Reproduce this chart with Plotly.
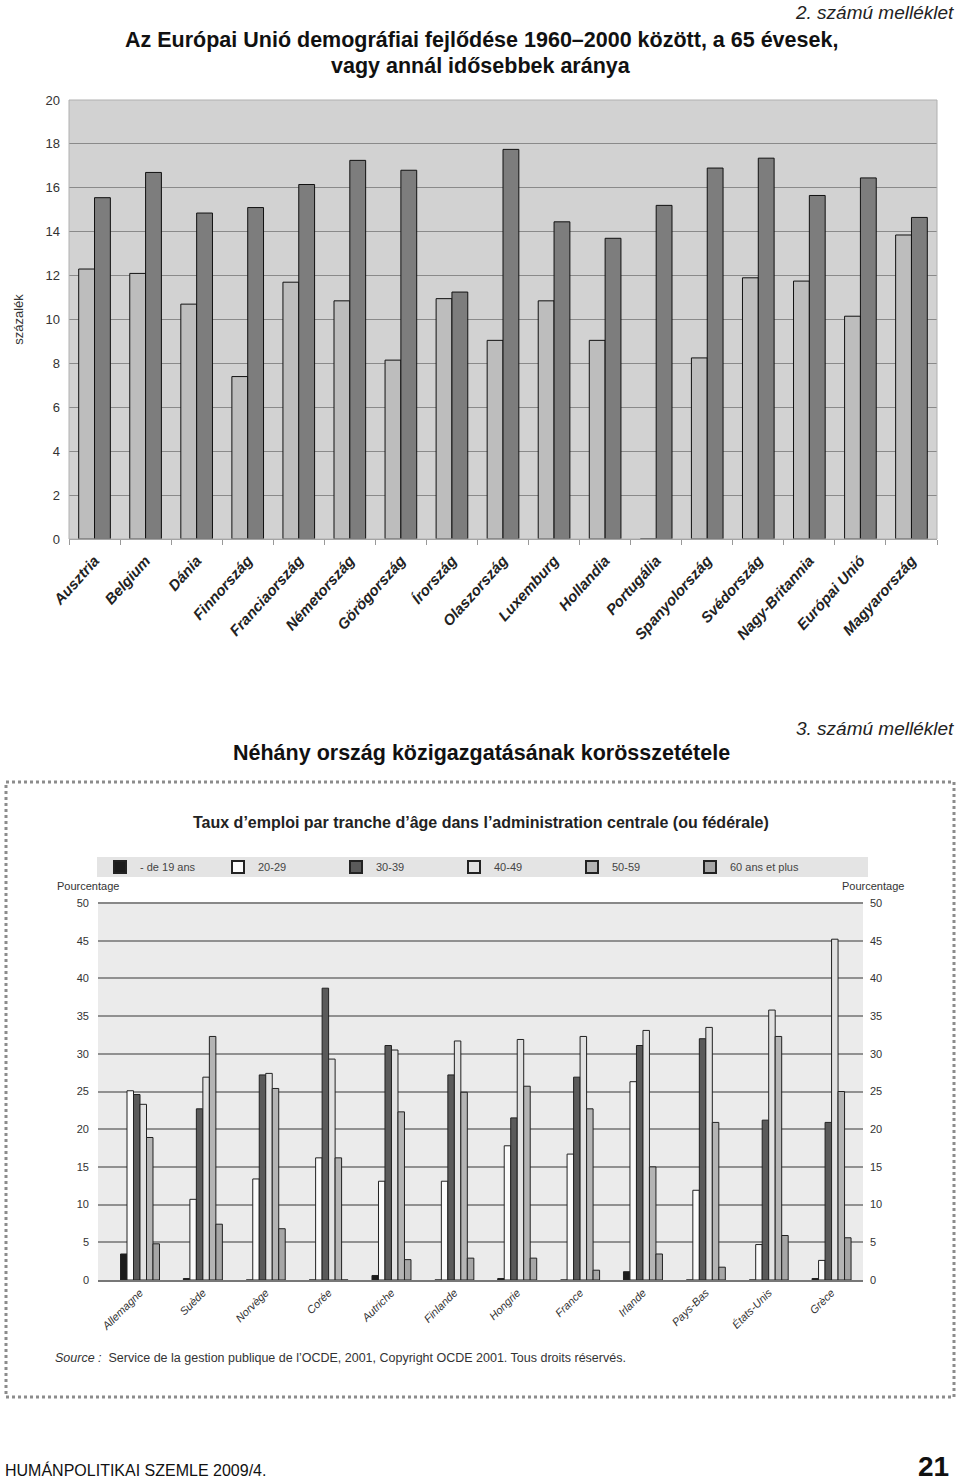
import plotly.graph_objects as go

# ---------------- Data: chart 1 ----------------
countries_eu = ["Ausztria", "Belgium", "Dánia", "Finnország", "Franciaország", "Németország",
                "Görögország", "Írország", "Olaszország", "Luxemburg", "Hollandia", "Portugália",
                "Spanyolország", "Svédország", "Nagy-Britannia", "Európai Unió", "Magyarország"]
share_1960 = [12.3, 12.1, 10.7, 7.4, 11.7, 10.85, 8.15, 10.95, 9.05, 10.85, 9.05, 0,
              8.25, 11.9, 11.75, 10.15, 13.85]
share_2000 = [15.55, 16.7, 14.85, 15.1, 16.15, 17.25, 16.8, 11.25, 17.75, 14.45, 13.7, 15.2,
              16.9, 17.35, 15.65, 16.45, 14.65]
y1_ticks = [0, 2, 4, 6, 8, 10, 12, 14, 16, 18, 20]

# ---------------- Data: chart 2 ----------------
countries_oecd = ["Allemagne", "Suède", "Norvège", "Corée", "Autriche", "Finlande", "Hongrie",
                  "France", "Irlande", "Pays-Bas", "États-Unis", "Grèce"]
age_groups = ["- de 19 ans", "20-29", "30-39", "40-49", "50-59", "60 ans et plus"]
age_u19 = [3.45, 0.2, 0, 0, 0.6, 0, 0.2, 0, 1.1, 0, 0, 0.2]
age_20_29 = [25.1, 10.7, 13.4, 16.2, 13.1, 13.1, 17.8, 16.7, 26.3, 11.9, 4.7, 2.6]
age_30_39 = [24.6, 22.7, 27.2, 38.7, 31.1, 27.2, 21.5, 26.9, 31.1, 32.0, 21.2, 20.9]
age_40_49 = [23.3, 26.9, 27.4, 29.3, 30.5, 31.7, 31.9, 32.3, 33.1, 33.5, 35.8, 45.2]
age_50_59 = [18.9, 32.3, 25.4, 16.2, 22.3, 24.9, 25.7, 22.7, 15.0, 20.9, 32.3, 25.0]
age_60p = [4.8, 7.4, 6.8, 0, 2.7, 2.9, 2.9, 1.3, 3.45, 1.7, 5.9, 5.6]
y2_ticks = [0, 5, 10, 15, 20, 25, 30, 35, 40, 45, 50]

W, H = 960, 1483
def px_x(x): return x / W
def px_y(y): return 1 - y / H

fig = go.Figure()

# ---- chart 1 bars ----
fig.add_trace(go.Bar(x=countries_eu, y=share_1960, name="1960", marker=dict(color="#bdbdbd", line=dict(color="#111", width=1)),
                     xaxis="x", yaxis="y", showlegend=False))
fig.add_trace(go.Bar(x=countries_eu, y=share_2000, name="2000", marker=dict(color="#7d7d7d", line=dict(color="#111", width=1)),
                     xaxis="x", yaxis="y", showlegend=False))

# ---- chart 2 bars ----
series2 = [age_u19, age_20_29, age_30_39, age_40_49, age_50_59, age_60p]
colors2 = ["#1c1c1c", "#fbfbfb", "#5a5a5a", "#e2e2e2", "#b4b4b4", "#a6a6a6"]
for name, vals, col in zip(age_groups, series2, colors2):
    fig.add_trace(go.Bar(x=countries_oecd, y=vals, name=name, xaxis="x2", yaxis="y2",
                         marker=dict(color=col, line=dict(color="#222", width=1))))
# right-hand duplicate axis
fig.add_trace(go.Scatter(x=[countries_oecd[0]], y=[0], xaxis="x2", yaxis="y3", mode="markers",
                         marker=dict(opacity=0), showlegend=False, hoverinfo="skip"))

grid_font = dict(family="Liberation Sans, Arial", size=13, color="#333")
small_font = dict(family="Liberation Sans, Arial", size=11, color="#333")

fig.update_layout(
    width=W, height=H,
    margin=dict(l=0, r=0, t=0, b=0, autoexpand=False),
    paper_bgcolor="white",
    barmode="group",
    bargap=0.38, bargroupgap=0.0,
    xaxis=dict(domain=[px_x(69), px_x(937)], anchor="y", showgrid=False, automargin=False,
               ticks="outside", ticklen=5, tickcolor="#999", showline=True, linecolor="#999",
               tickangle=-48, tickson="boundaries", ticklabelstandoff=6,
               tickfont=dict(family="Liberation Sans, Arial", size=15, color="#222", style="italic", weight="bold")),
    yaxis=dict(domain=[px_y(539), px_y(100)], anchor="x", range=[0, 20], tickvals=y1_ticks, automargin=False,
               showgrid=True, gridcolor="#8a8a8a", gridwidth=1, zeroline=False, ticklabelstandoff=8,
               tickfont=grid_font, ticks="", showline=False,
               title=dict(text="százalék", font=dict(family="Liberation Sans, Arial", size=13, color="#333"), standoff=18)),
    xaxis2=dict(domain=[px_x(98), px_x(863)], anchor="y2", showgrid=False, automargin=False,
                showline=True, linecolor="#777", linewidth=2, ticks="",
                tickangle=-45,
                tickfont=dict(family="Liberation Sans, Arial", size=11, color="#333", style="italic")),
    yaxis2=dict(domain=[px_y(1280), px_y(903)], anchor="x2", range=[0, 50], tickvals=y2_ticks, automargin=False,
                showgrid=True, gridcolor="#909090", gridwidth=1.5, zeroline=False, ticks="", ticklabelstandoff=8,
                tickfont=small_font),
    yaxis3=dict(overlaying="y2", side="right", anchor="x2", range=[0, 50], tickvals=y2_ticks, automargin=False,
                showgrid=False, zeroline=False, ticks="", ticklabelstandoff=6,
                tickfont=small_font),
    plot_bgcolor="#d2d2d2",
    legend=dict(orientation="h", x=px_x(100), y=px_y(867), xanchor="left", yanchor="middle",
                bgcolor="rgba(0,0,0,0)", entrywidth=73, entrywidthmode="pixels",
                font=dict(family="Liberation Sans, Arial", size=11, color="#444"),
                itemsizing="constant", traceorder="normal"),
)

shapes = []
shapes.append(dict(type="rect", xref="x2 domain", yref="y2 domain", x0=0, x1=1, y0=0, y1=1,
                   fillcolor="#ebebeb", line=dict(width=0), layer="below"))
for v in (20, 35):
    shapes.append(dict(type="line", xref="x2 domain", yref="y2", x0=0, x1=1, y0=v, y1=v,
                       line=dict(color="#222", width=1.5), layer="below"))
shapes.append(dict(type="line", xref="x2 domain", yref="y2 domain", x0=0, x1=1, y0=1, y1=1,
                   line=dict(color="#888", width=2), layer="below"))
# legend backdrop
shapes.append(dict(type="rect", xref="paper", yref="paper", x0=px_x(97), x1=px_x(868), y0=px_y(877), y1=px_y(857),
                   fillcolor="#e4e4e4", line=dict(width=0), layer="below"))
# outer box of chart 2
shapes.append(dict(type="rect", xref="paper", yref="paper", x0=px_x(6), x1=px_x(954), y0=px_y(1397), y1=px_y(782),
                   line=dict(color="#8c8c8c", width=3, dash="dot"), fillcolor="rgba(0,0,0,0)", layer="below"))
shapes.append(dict(type="rect", xref="x domain", yref="y domain", x0=0, x1=1, y0=0, y1=1,
                   line=dict(color="#b0b0b0", width=1), fillcolor="rgba(0,0,0,0)"))
fig.update_layout(shapes=shapes)

head_font = dict(family="Liberation Sans, Arial", size=21.5, color="#111", weight="bold")
ital_font = dict(family="Liberation Sans, Arial", size=19, color="#222", style="italic")
ann = [
    dict(text="2. számú melléklet", x=px_x(956), y=px_y(13), xanchor="right", yanchor="middle", font=ital_font),
    dict(text="Az Európai Unió demográfiai fejlődése 1960–2000 között, a 65 évesek,", x=px_x(481), y=px_y(40),
         xanchor="center", yanchor="middle", font=head_font),
    dict(text="vagy annál idősebbek aránya", x=px_x(481), y=px_y(66), xanchor="center", yanchor="middle", font=head_font),
    dict(text="3. számú melléklet", x=px_x(956), y=px_y(729), xanchor="right", yanchor="middle", font=ital_font),
    dict(text="Néhány ország közigazgatásának korösszetétele", x=px_x(481), y=px_y(753), xanchor="center",
         yanchor="middle", font=head_font),
    dict(text="Taux d’emploi par tranche d’âge dans l’administration centrale (ou fédérale)", x=px_x(481), y=px_y(822),
         xanchor="center", yanchor="middle",
         font=dict(family="Liberation Sans, Arial", size=16, color="#222", weight="bold")),
    dict(text="Pourcentage", x=px_x(88), y=px_y(886), xanchor="center", yanchor="middle", font=small_font),
    dict(text="Pourcentage", x=px_x(873), y=px_y(886), xanchor="center", yanchor="middle", font=small_font),
    dict(text="<i>Source :</i>  Service de la gestion publique de l’OCDE, 2001, Copyright OCDE 2001. Tous droits réservés.",
         x=px_x(53), y=px_y(1358), xanchor="left", yanchor="middle",
         font=dict(family="Liberation Sans, Arial", size=12.5, color="#333")),
    dict(text="HUMÁNPOLITIKAI SZEMLE 2009/4.", x=px_x(3), y=px_y(1470), xanchor="left", yanchor="middle",
         font=dict(family="Liberation Sans, Arial", size=16, color="#111")),
    dict(text="21", x=px_x(951), y=px_y(1466), xanchor="right", yanchor="middle",
         font=dict(family="Liberation Sans, Arial", size=28, color="#111", weight="bold")),
]
for a in ann:
    a.update(xref="paper", yref="paper", showarrow=False)
fig.update_layout(annotations=ann)

fig.write_html("out.html", config={"displayModeBar": False},
               post_script="document.body.style.margin='0';document.body.style.overflow='hidden';")
